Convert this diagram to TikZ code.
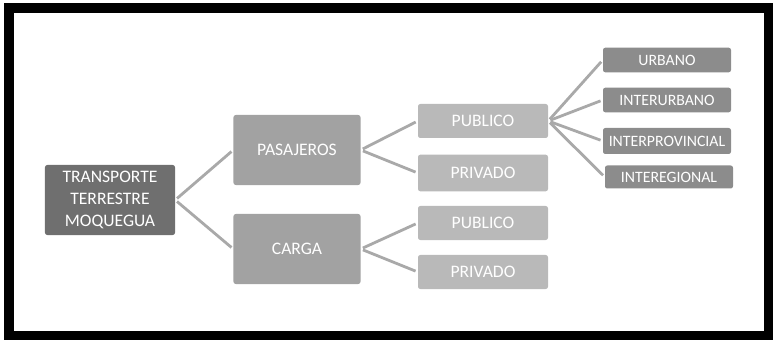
\documentclass[tikz,border=0pt]{standalone}
\usepackage{fontspec}
\setmainfont{Carlito}
\definecolor{boxdark}{HTML}{6F6F6F}
\definecolor{boxmid}{HTML}{A2A2A2}
\definecolor{boxlight}{HTML}{B9B9B9}
\definecolor{boxleaf}{HTML}{8C8C8C}
\definecolor{linkgray}{HTML}{A9A9A9}
\tikzset{
  box/.style={rectangle, rounded corners=2pt, text=white, align=center, inner sep=1pt},
  rootbox/.style={box, fill=boxdark, minimum width=3.9cm, minimum height=2.1cm, font=\fontsize{15}{19}\selectfont},
  midbox/.style={box, fill=boxmid, minimum width=3.81cm, minimum height=2.1cm, font=\fontsize{15}{18}\selectfont},
  subbox/.style={box, fill=boxlight, minimum width=3.9cm, minimum height=1.02cm, font=\fontsize{15}{18}\selectfont},
  leafbox/.style={box, fill=boxleaf, minimum width=3.84cm, minimum height=0.74cm, font=\fontsize{13.5}{16}\selectfont},
  link/.style={draw=linkgray, line width=2.4pt, shorten <=2pt, shorten >=2pt}
}
\begin{document}
\begin{tikzpicture}[x=0.03cm,y=-0.03cm]

			% Frame
			\useasboundingbox (0,0) rectangle (773,342);
			\draw[line width=7.7pt] (9,8) rectangle (768.5,335.5);

			% Root
			\node[rootbox] (root) at (110,200) {TRANSPORTE\\TERRESTRE\\MOQUEGUA};

			% Second level
			\node[midbox] (pas) at (297,150) {PASAJEROS};
			\node[midbox] (carga) at (297,249) {CARGA};

			% Third level
			\node[subbox] (pubpas) at (483,121) {PUBLICO};
			\node[subbox, minimum height=1.1cm] (privpas) at (483,173) {PRIVADO};
			\node[subbox] (pubcarga) at (483,223) {PUBLICO};
			\node[subbox] (privcarga) at (483,272) {PRIVADO};

			% Fourth level
			\node[leafbox] (urbano) at (667,60) {URBANO};
			\node[leafbox] (interurbano) at (667,100) {INTERURBANO};
			\node[leafbox, minimum height=0.78cm] (interprov) at (667,141) {INTERPROVINCIAL};
			\node[leafbox, minimum height=0.69cm] (interreg) at (669,177) {INTEREGIONAL};

			% Links
			\draw[link] (root.east) -- (pas.west);
			\draw[link] (root.east) -- (carga.west);
			\draw[link] (pas.east) -- (pubpas.west);
			\draw[link] (pas.east) -- (privpas.west);
			\draw[link] (carga.east) -- (pubcarga.west);
			\draw[link] (carga.east) -- (privcarga.west);
			\foreach \leaf in {urbano,interurbano,interprov,interreg}
				\draw[link] (pubpas.east) -- (\leaf.west);

\end{tikzpicture}
\end{document}
